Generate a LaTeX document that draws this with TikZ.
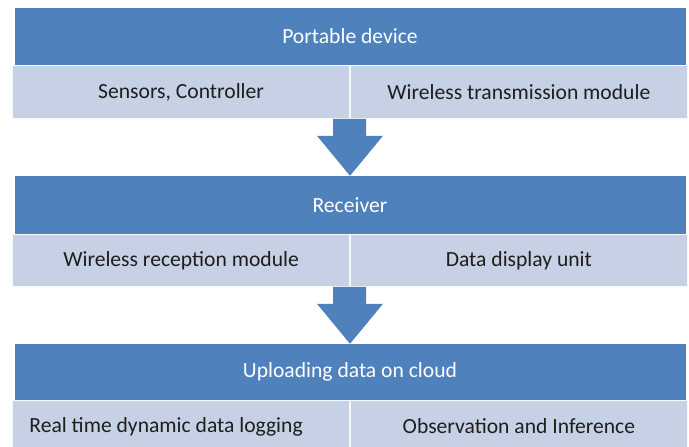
\documentclass[tikz,border=0pt]{standalone}
\usepackage{fontspec}
\setmainfont{Carlito}
\definecolor{hdrblue}{HTML}{4F81BD}
\definecolor{rowtint}{HTML}{C6D1E5}
\definecolor{rowtext}{HTML}{1E1E1E}
\begin{document}
\begin{tikzpicture}[x=1pt,y=-1pt,
  header/.style={fill=hdrblue,draw=none,minimum width=671pt,minimum height=#1,
    inner sep=0pt,text=white,font=\fontsize{21.6}{26}\selectfont},
  cell/.style={fill=rowtint,draw=white!85!rowtint,line width=0.8pt,minimum width=337pt,
    minimum height=#1,inner sep=0pt,text=rowtext,font=\fontsize{21.6}{26}\selectfont},
  flowarrow/.style={fill=hdrblue,draw=none}]
\useasboundingbox (0,0) rectangle (689,447);

% stage 1
\node[header=57pt] (dev) at (350,36.5) {Portable device};
\node[cell=53pt,anchor=north east] (sens) at (350,65) {Sensors, Controller};
\node[cell=53pt,anchor=north west] (wtx) at (350,65) {Wireless transmission module};

% stage 2
\node[header=58pt] (rcv) at (350,205) {Receiver};
\node[cell=52pt,anchor=north east] (wrx) at (350,234) {Wireless reception module};
\node[cell=52pt,anchor=north west] (disp) at (350,234) {Data display unit};

% stage 3
\node[header=56pt] (cloud) at (350,372) {Uploading data on cloud};
\node[cell=52pt,anchor=north east] (log) at (350,400) {};
\node[text=rowtext,font=\fontsize{21.6}{26}\selectfont,inner sep=0pt]
  (logtxt) at ([xshift=-15pt]log.center) {Real time dynamic data logging};
\node[cell=52pt,anchor=north west] (obs) at (350,400) {Observation and Inference};

% block arrows between stages
\coordinate (a1) at (sens.south east);
\coordinate (a1tip) at (rcv.north);
\fill[flowarrow] ([xshift=-17pt]a1) -- ([xshift=16pt]a1) -- ([xshift=16pt,yshift=-17pt]a1)
  -- ([xshift=33pt,yshift=-17pt]a1) -- (a1tip) -- ([xshift=-33pt,yshift=-17pt]a1)
  -- ([xshift=-17pt,yshift=-17pt]a1) -- cycle;

\coordinate (a2) at (wrx.south east);
\coordinate (a2tip) at (cloud.north);
\fill[flowarrow] ([xshift=-17pt]a2) -- ([xshift=16pt]a2) -- ([xshift=16pt,yshift=-17pt]a2)
  -- ([xshift=33pt,yshift=-17pt]a2) -- (a2tip) -- ([xshift=-33pt,yshift=-17pt]a2)
  -- ([xshift=-17pt,yshift=-17pt]a2) -- cycle;
\end{tikzpicture}
\end{document}
